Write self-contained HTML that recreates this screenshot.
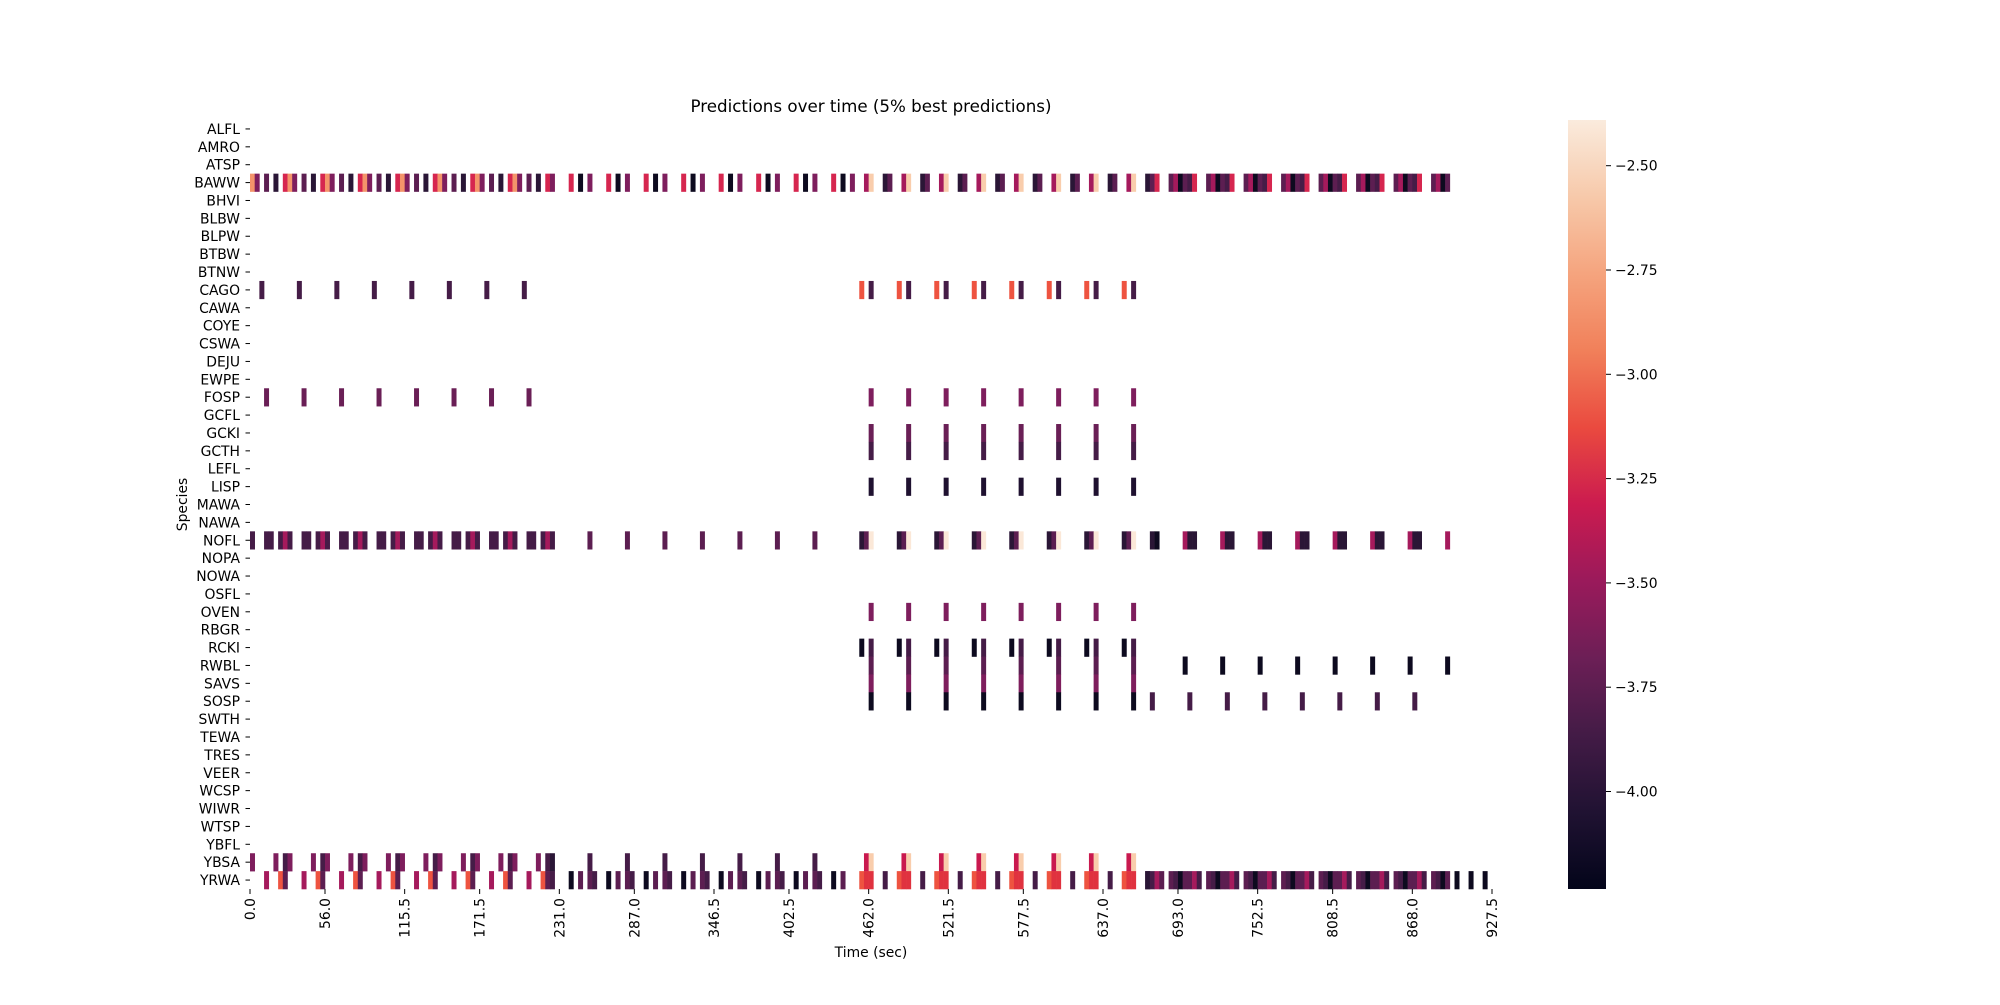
<!DOCTYPE html>
<html><head><meta charset="utf-8"><style>
html,body{margin:0;padding:0;background:#fff;}
svg text{font-family:"DejaVu Sans","Liberation Sans",sans-serif;fill:#000;}
</style></head><body>
<svg id="s" width="2000" height="1000" xmlns="http://www.w3.org/2000/svg">
<defs>
<linearGradient id="cb" x1="0" y1="1" x2="0" y2="0">
<stop offset="0" stop-color="#03051a"/>
<stop offset="0.1" stop-color="#201232"/>
<stop offset="0.2" stop-color="#431b46"/>
<stop offset="0.3" stop-color="#6c1f56"/>
<stop offset="0.4" stop-color="#9a1a5b"/>
<stop offset="0.5" stop-color="#cb1b4f"/>
<stop offset="0.6" stop-color="#ea4a3f"/>
<stop offset="0.7" stop-color="#f1805a"/>
<stop offset="0.8" stop-color="#f5a47e"/>
<stop offset="0.9" stop-color="#f7c9aa"/>
<stop offset="1" stop-color="#faebdd"/>
</linearGradient>
</defs>
<text x="871" y="112" font-size="16.7" text-anchor="middle">Predictions over time (5% best predictions)</text>
<g id="cells"></g>
<g id="axes"></g>
<rect x="1568" y="120" width="38" height="769" fill="url(#cb)"/>
<text x="871" y="957" font-size="13.9" text-anchor="middle">Time (sec)</text>
<text transform="translate(187,504.5) rotate(-90)" font-size="13.9" text-anchor="middle">Species</text>
</svg>
<script>
var NS="http://www.w3.org/2000/svg";
var x0=250,cw=1242/265,y0=120,rh=769/43;
var sp="ALFL AMRO ATSP BAWW BHVI BLBW BLPW BTBW BTNW CAGO CAWA COYE CSWA DEJU EWPE FOSP GCFL GCKI GCTH LEFL LISP MAWA NAWA NOFL NOPA NOWA OSFL OVEN RBGR RCKI RWBL SAVS SOSP SWTH TEWA TRES VEER WCSP WIWR WTSP YBFL YBSA YRWA".split(" ");
var C={P:"#f9cdac",P2:"#fbe8d8",O:"#f4946a",R:"#d6264f",R2:"#c9194f",R3:"#e0323f",E:"#ee5340",M:"#a51a5c",U:"#7e1e5d",U2:"#6a1f56",V:"#5c1e51",D:"#451c47",K:"#2a1636",B:"#0d0a1f",B2:"#1f1130"};
var out="";
function c(r,col,k){out+='<rect x="'+(x0+col*cw).toFixed(2)+'" y="'+(y0+r*rh).toFixed(2)+'" width="'+(cw+0.3).toFixed(2)+'" height="'+(rh+0.3).toFixed(2)+'" fill="'+C[k]+'"/>';}
var j,k;
// BAWW
for(j=0;j<8;j++){c(3,8*j,"O");c(3,8*j+1,"U");c(3,8*j+3,"V");c(3,8*j+5,"K");c(3,8*j+7,"R");}
c(3,64,"U");
for(j=0;j<8;j++){c(3,68+8*j,"R");c(3,70+8*j,"B");c(3,72+8*j,"U");}
for(k=0;k<15;k++){var b=131+4*k;if(k%2==0){c(3,b,"M");c(3,b+1,"P");}else{c(3,b,"K");c(3,b+1,"V");}}
c(3,191,"K");c(3,192,"V");c(3,193,"R");
var g1=["V","M","B","V","D","R"];
for(j=0;j<8;j++){var n=j<7?6:4;for(k=0;k<n;k++)c(3,196+8*j+k,g1[k]);}
// CAGO
for(j=0;j<8;j++){c(9,2+8*j,"D");c(9,130+8*j,"E");c(9,132+8*j,"D");}
// FOSP, GCKI, GCTH, LISP, OVEN
for(j=0;j<8;j++){c(15,3+8*j,"U2");c(15,132+8*j,"U");c(17,132+8*j,"U2");c(18,132+8*j,"D");c(20,132+8*j,"B2");c(27,132+8*j,"U");}
// NOFL
for(j=0;j<8;j++){c(23,8*j,"D");c(23,8*j+3,"D");c(23,8*j+4,"D");c(23,8*j+6,"D");c(23,8*j+7,"M");}
c(23,64,"D");
for(j=0;j<7;j++){c(23,72+8*j,"V");}
for(j=0;j<8;j++){c(23,130+8*j,"K");c(23,131+8*j,"V");c(23,132+8*j,"P2");}
c(23,192,"K");c(23,193,"B");
for(j=0;j<7;j++){c(23,199+8*j,"M");c(23,200+8*j,"K");c(23,201+8*j,"K");}
c(23,255,"M");
// RCKI RWBL SAVS SOSP
for(j=0;j<8;j++){c(29,130+8*j,"B");c(29,132+8*j,"D");c(30,132+8*j,"V");c(31,132+8*j,"U");c(32,132+8*j,"B");
 c(30,199+8*j,"B");c(32,192+8*j,"D");}
// YBSA
for(j=0;j<8;j++){c(41,8*j,"U");c(41,8*j+5,"U");c(41,8*j+7,"D");c(41,131+8*j,"R2");c(41,132+8*j,"P");}
c(41,64,"K");
for(j=0;j<7;j++){c(41,72+8*j,"D");}
// YRWA
for(j=0;j<8;j++){c(42,8*j+3,"M");c(42,8*j+6,"E");c(42,8*j+7,"V");}
c(42,64,"D");
for(j=0;j<8;j++){c(42,68+8*j,"B");c(42,70+8*j,"V");if(j<7){c(42,72+8*j,"V");c(42,73+8*j,"D");}}
for(j=0;j<8;j++){c(42,130+8*j,"E");c(42,131+8*j,"R3");c(42,132+8*j,"R3");c(42,135+8*j,"D");}
c(42,191,"K");c(42,192,"D");c(42,193,"M");c(42,194,"V");
var g2=["V","D","B","V","V","M","D"];
for(j=0;j<8;j++){var n2=j<7?7:4;for(k=0;k<n2;k++)c(42,196+8*j+k,g2[k]);}
c(42,257,"B");c(42,260,"B");c(42,263,"B");
document.getElementById("cells").innerHTML=out;
// axes
var a="";
for(var i=0;i<43;i++){var y=y0+(i+0.5)*rh;
 a+='<line x1="245.5" x2="250" y1="'+y.toFixed(2)+'" y2="'+y.toFixed(2)+'" stroke="#000" stroke-width="1"/>';
 a+='<text x="240" y="'+(y+5).toFixed(2)+'" font-size="13.9" text-anchor="end">'+sp[i]+'</text>';}
var tl=["0.0","56.0","115.5","171.5","231.0","287.0","346.5","402.5","462.0","521.5","577.5","637.0","693.0","752.5","808.5","868.0","927.5"];
for(var t=0;t<tl.length;t++){var x=x0+(parseFloat(tl[t])/3.5)*cw;
 a+='<line x1="'+x.toFixed(2)+'" x2="'+x.toFixed(2)+'" y1="889" y2="894" stroke="#000" stroke-width="1"/>';
 a+='<text transform="translate('+(x+5).toFixed(2)+',898) rotate(-90)" font-size="13.9" text-anchor="end">'+tl[t]+'</text>';}
var cv=[-2.5,-2.75,-3.0,-3.25,-3.5,-3.75,-4.0];
for(var q=0;q<cv.length;q++){var yy=165.7+q*104.3;
 a+='<line x1="1606" x2="1611" y1="'+yy.toFixed(2)+'" y2="'+yy.toFixed(2)+'" stroke="#000" stroke-width="1"/>';
 a+='<text x="1615" y="'+(yy+5).toFixed(2)+'" font-size="13.9">\u2212'+Math.abs(cv[q]).toFixed(2)+'</text>';}
document.getElementById("axes").innerHTML=a;
</script>
</body></html>
